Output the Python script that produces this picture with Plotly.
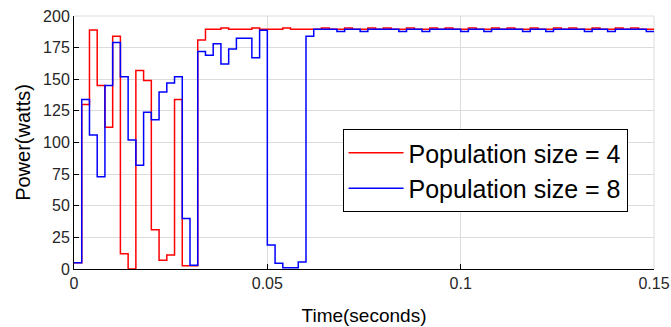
import plotly.graph_objects as go

# sample period of the simulated controller (s)
dt = 0.002

# Power (W) per 2 ms sample, population size = 4
power_pop4 = [5, 130, 189, 145, 112, 184, 12, 0, 157, 149,
              31, 7, 11, 134, 2.5, 2.5, 181, 189.5, 189.5, 190.5,
              189.5, 189.5, 189.5, 190.5, 189.5, 189.5, 189.5, 190.5, 189.5, 189.5,
              189.5, 189.5, 190.5, 189.5, 189.5, 190.5, 189.5, 189.5, 190.5, 189.5,
              190.5, 189.5, 189.5, 190.5, 189.5, 189.5, 190.5, 189.5, 190.5, 189.5,
              189.5, 190.5, 189.5, 189.5, 190.5, 189.5, 190.5, 189.5, 189.5, 190.5,
              189.5, 189.5, 190.5, 189.5, 190.5, 189.5, 189.5, 190.5, 189.5, 189.5,
              190.5, 189.5, 190.5, 189.5, 189.5]

# Power (W) per 2 ms sample, population size = 8
power_pop8 = [5, 134, 106, 73, 145, 179, 152, 102, 82, 124,
              118, 140, 147, 152, 40, 3, 172, 169, 178, 162,
              174, 182.5, 182.5, 167, 188.7, 19, 4.5, 1, 1, 5.5,
              184, 189.5, 189.5, 189.5, 187.7, 189.5, 189.5, 187.7, 189.5, 189.5,
              189.5, 189.5, 187.7, 189.5, 189.5, 187.7, 189.5, 189.5, 189.5, 189.5,
              187.7, 189.5, 189.5, 187.7, 189.5, 189.5, 189.5, 189.5, 187.7, 189.5,
              189.5, 187.7, 189.5, 189.5, 189.5, 189.5, 187.7, 189.5, 189.5, 187.7,
              189.5, 189.5, 189.5, 189.5, 187.7]

x_tick_vals = [0, 0.05, 0.1, 0.15]
x_tick_text = ["0", "0.05", "0.1", "0.15"]
y_tick_vals = [0, 25, 50, 75, 100, 125, 150, 175, 200]

series_names = ["Population size = 4", "Population size = 8"]
series_colors = ["#ff0000", "#0000ff"]

n = len(power_pop4)
time_s = [round(i * dt, 4) for i in range(n + 1)]  # sample instants + end of last hold

fig = go.Figure()
for name, vals, col in zip(series_names, [power_pop4, power_pop8], series_colors):
    fig.add_trace(go.Scatter(
        x=time_s, y=vals + [vals[-1]], name=name, mode="lines",
        line=dict(color=col, width=1.5, shape="hv"),
    ))

font_family = "Liberation Sans, Arial, sans-serif"
fig.update_layout(
    width=671, height=327,
    margin=dict(l=74, r=17, t=16, b=58, autoexpand=False),
    paper_bgcolor="white", plot_bgcolor="white",
    font=dict(family=font_family, size=16, color="#262626"),
    showlegend=True,
    legend=dict(
        x=0.463, y=0.553, xanchor="left", yanchor="top",
        bgcolor="white", bordercolor="#000000", borderwidth=1,
        font=dict(size=25, color="#000000"),
        itemwidth=55, tracegroupgap=0,
    ),
    xaxis=dict(
        range=[0, 0.15], tickvals=x_tick_vals, ticktext=x_tick_text,
        showgrid=True, gridcolor="#dcdcdc", gridwidth=1,
        showline=True, linecolor="#000000", linewidth=1,
        ticks="inside", ticklen=5, tickcolor="#000000",
        zeroline=False, mirror=False, automargin=False,
        ticklabeloverflow="allow",
        title=dict(text="Time(seconds)", font=dict(size=19, color="#000000"), standoff=17),
        tickfont=dict(size=16, color="#262626"),
    ),
    yaxis=dict(
        range=[0, 200], tickvals=y_tick_vals,
        showgrid=True, gridcolor="#dcdcdc", gridwidth=1,
        showline=True, linecolor="#000000", linewidth=1,
        ticks="inside", ticklen=5, tickcolor="#000000",
        zeroline=False, mirror=False, automargin=False,
        ticklabeloverflow="allow",
        title=dict(text="Power(watts)", font=dict(size=20, color="#000000"), standoff=7),
        tickfont=dict(size=16, color="#262626"),
    ),
)
# light frame on top/right like the reference grid edge
fig.add_shape(type="line", xref="paper", yref="paper", x0=0, x1=1, y0=1, y1=1,
              line=dict(color="#dcdcdc", width=1), layer="below")
fig.add_shape(type="line", xref="paper", yref="paper", x0=1, x1=1, y0=0, y1=1,
              line=dict(color="#dcdcdc", width=1), layer="below")

# remove the default page margin so the figure sits at the window's corner
fig.write_html("out.html", config={"displayModeBar": False},
               post_script="document.body.style.margin='0';")
